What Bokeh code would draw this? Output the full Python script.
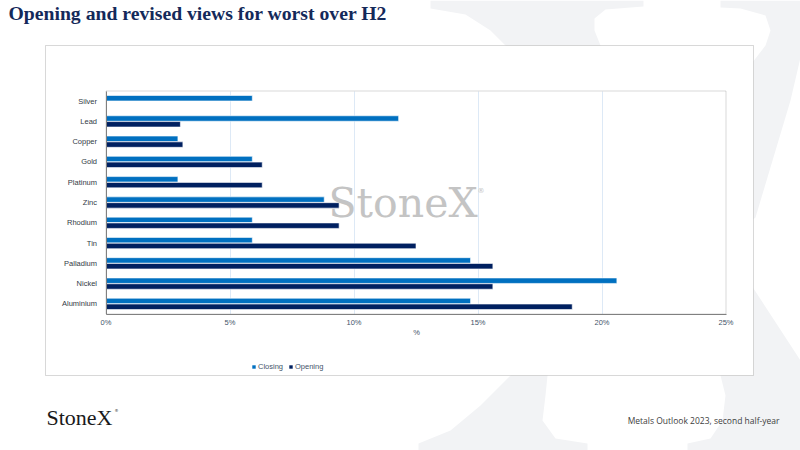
from bokeh.plotting import figure
from bokeh.models import (Range1d, FixedTicker, PrintfTickFormatter, Label, LinearAxis, Grid,
                          BoxAnnotation, PolyAnnotation, Legend, LegendItem, ColumnDataSource)
from bokeh.embed import file_html
from bokeh.resources import INLINE

# ---------------- data ----------------
metals = ["Aluminium", "Nickel", "Palladium", "Tin", "Rhodium", "Zinc",
          "Platinum", "Gold", "Copper", "Lead", "Silver"]
closing = [14.7, 20.6, 14.7, 5.9, 5.9, 8.8, 2.9, 5.9, 2.9, 11.8, 5.9]
opening = [18.8, 15.6, 15.6, 12.5, 9.4, 9.4, 6.3, 6.3, 3.1, 3.0, float("nan")]
x_ticks = [0, 5, 10, 15, 20, 25]
series_names = ["Closing", "Opening"]
title_text = "Opening and revised views for worst over H2"
footer_text = "Metals Outlook 2023, second half-year"
brand = "StoneX"

# ---------------- page geometry (pixels) ----------------
W, H = 800, 450
PX_L, PX_R, PX_T, PX_B = 105.5, 725.5, 90.5, 313.5   # chart plotting area
XMAX = x_ticks[-1]
NCAT = len(metals)
kx = (PX_R - PX_L) / XMAX
ky = (PX_B - PX_T) / NCAT
x_range = Range1d(-PX_L / kx, XMAX + (W - PX_R) / kx)
y_range = Range1d(-(H - PX_B) / ky, NCAT + PX_T / ky)


def sy(y):
    return H - y


pos = [i + 0.5 for i in range(NCAT)]
src = ColumnDataSource(dict(metal=metals, pos=pos,
                            pos_c=[v + 0.143 for v in pos], pos_o=[v - 0.143 for v in pos],
                            closing=closing, opening=opening))

p = figure(width=W, height=H, output_backend="svg", toolbar_location=None,
           x_range=x_range, y_range=y_range,
           x_axis_location=None, y_axis_location=None,
           min_border=0, min_border_left=0, min_border_right=0,
           min_border_top=0, min_border_bottom=0)
p.background_fill_color = "white"
p.border_fill_color = "white"
p.outline_line_color = None
for g in p.grid:
    g.grid_line_color = None

# ---------------- watermark (decoration) ----------------
wm_color = "#f2f3f5"
wm_shapes = [
    [(430, 0), (643, 0), (643, 6), (605, 9), (594, 18), (594, 30), (600, 45), (753, 288),
     (800, 360), (850, 450), (687, 450), (687, 443), (710, 438), (722, 420), (725, 395),
     (720, 375), (505, 45), (490, 30), (465, 14), (430, 8)],
    [(720, 0), (800, 0), (800, 57), (790, 100), (755, 217), (547, 375), (545, 395),
     (542, 420), (555, 438), (587, 443), (587, 450), (418, 450), (418, 443), (450, 430),
     (480, 405), (510, 375), (765, 45), (770, 30), (765, 15), (740, 8), (720, 7)],
]
for shp in wm_shapes:
    p.add_layout(PolyAnnotation(xs=[a for a, b in shp], ys=[sy(b) for a, b in shp],
                                xs_units="screen", ys_units="screen",
                                fill_color=wm_color, fill_alpha=1, line_color=None,
                                level="image"))

p.add_layout(BoxAnnotation(left=45, right=753, top=sy(45), bottom=sy(375),
                           left_units="screen", right_units="screen",
                           top_units="screen", bottom_units="screen",
                           fill_color="white", fill_alpha=1, line_color="#7f7f7f",
                           line_width=1, level="image"))

# ---------------- grid ----------------
p.add_layout(Grid(dimension=0, ticker=FixedTicker(ticks=x_ticks[1:-1]),
                  cross_bounds=(0, NCAT), grid_line_color="#dde9f6", grid_line_width=1))

# ---------------- bars ----------------
r_close = p.hbar(y="pos_c", right="closing", left=0, height=0.27, source=src,
                 fill_color="#0070C0", line_color="white", line_width=0.6)
r_open = p.hbar(y="pos_o", right="opening", left=0, height=0.27, source=src,
                fill_color="#002060", line_color="white", line_width=0.6)

# chart area outline
p.add_layout(BoxAnnotation(left=0, right=XMAX, bottom=0, top=NCAT,
                           fill_alpha=0, line_color="#808080", line_width=1))

# ---------------- axes ----------------
xaxis = LinearAxis(fixed_location=0, bounds=(0, XMAX),
                   ticker=FixedTicker(ticks=x_ticks),
                   formatter=PrintfTickFormatter(format="%d%%"),
                   axis_label="%",
                   axis_label_text_font="Liberation Sans",
                   axis_label_text_font_size="7.5px",
                   axis_label_text_font_style="normal",
                   axis_label_text_color="#44546a",
                   axis_label_standoff=-3,
                   major_label_text_font="Liberation Sans",
                   major_label_text_font_size="7.5px",
                   major_label_text_color="#44546a",
                   major_label_standoff=4,
                   major_tick_out=0, major_tick_in=0,
                   minor_tick_out=0, minor_tick_in=0,
                   major_tick_line_color=None, minor_tick_line_color=None,
                   axis_line_color="#808080")
p.add_layout(xaxis, "below")

yaxis = LinearAxis(fixed_location=0, bounds=(0, NCAT),
                   ticker=FixedTicker(ticks=pos),
                   major_label_overrides={v: m for v, m in zip(pos, metals)},
                   major_label_text_font="Liberation Sans",
                   major_label_text_font_size="7.5px",
                   major_label_text_color="#333a45",
                   major_label_standoff=9,
                   major_tick_out=0, major_tick_in=0,
                   minor_tick_out=0, minor_tick_in=0,
                   major_tick_line_color=None, minor_tick_line_color=None,
                   axis_line_color="#808080")
p.add_layout(yaxis, "left")

# ---------------- legend ----------------
legend = Legend(items=[LegendItem(label=series_names[0], renderers=[r_close]),
                       LegendItem(label=series_names[1], renderers=[r_open])],
                location=(251, sy(371)), orientation="horizontal",
                label_text_font="Liberation Sans", label_text_font_size="7.5px",
                label_text_color="#44546a", glyph_width=5, glyph_height=5,
                label_standoff=2, spacing=5, padding=0, margin=0,
                border_line_color=None, background_fill_alpha=0,
                label_height=9)
p.add_layout(legend)

# ---------------- texts ----------------
p.add_layout(Label(x=8, y=sy(12), x_units="screen", y_units="screen",
                   text=title_text, text_font="Liberation Serif",
                   text_font_size="19.7px", text_font_style="bold",
                   text_color="#14295a", text_baseline="middle", text_align="left"))

p.add_layout(Label(x=328, y=sy(202), x_units="screen", y_units="screen",
                   text=brand, text_font="DejaVu Serif", text_font_size="41px",
                   text_color="#c4c4c4", text_baseline="middle", text_align="left"))
p.add_layout(Label(x=477, y=sy(190), x_units="screen", y_units="screen",
                   text="®", text_font="DejaVu Sans", text_font_size="7px",
                   text_color="#c4c4c4", text_baseline="middle", text_align="left"))

p.add_layout(Label(x=46, y=sy(417), x_units="screen", y_units="screen",
                   text=brand, text_font="Liberation Serif", text_font_size="22px",
                   text_color="#1a1a1a", text_baseline="middle", text_align="left"))
p.add_layout(Label(x=114, y=sy(410), x_units="screen", y_units="screen",
                   text="®", text_font="DejaVu Sans", text_font_size="4px",
                   text_color="#1a1a1a", text_baseline="middle", text_align="left"))

p.add_layout(Label(x=779, y=sy(420), x_units="screen", y_units="screen",
                   text=footer_text, text_font="Open Sans", text_font_size="8.5px",
                   text_color="#404040", text_baseline="middle", text_align="right"))

open("out.html", "w").write(file_html(p, INLINE))
